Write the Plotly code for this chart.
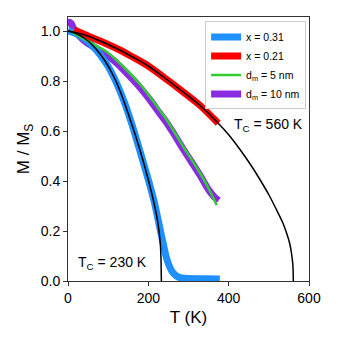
import plotly.graph_objects as go

# x = 0.31 (blue)
T_x031 = [0, 20, 40, 60, 80, 100, 120, 140, 160, 180, 200, 215, 225, 235, 246, 255, 262, 270, 280, 300, 340, 378]
M_x031 = [1.0, 0.99, 0.97, 0.942, 0.905, 0.858, 0.795, 0.717, 0.622, 0.515, 0.405, 0.315, 0.24, 0.165, 0.088, 0.05,
          0.032, 0.02, 0.013, 0.01, 0.009, 0.008]

# x = 0.21 (red)
T_x021 = [15, 40, 80, 129, 160, 200, 246, 286, 329, 374]
M_x021 = [1.005, 0.987, 0.96, 0.924, 0.897, 0.86, 0.806, 0.757, 0.702, 0.631]

# d_m = 5 nm (green)
T_d5 = [10, 38, 60, 96, 120, 146, 175, 204, 225, 246, 265, 287, 308, 329, 350, 370]
M_d5 = [0.995, 0.97, 0.95, 0.917, 0.885, 0.844, 0.795, 0.737, 0.69, 0.644, 0.595, 0.537, 0.485, 0.431, 0.37, 0.304]

# d_m = 10 nm (purple)
T_d10 = [0, 4, 8, 12, 18, 38, 60, 96, 120, 146, 175, 204, 225, 246, 265, 287, 308, 329, 350, 365, 375]
M_d10 = [1.02, 1.035, 1.03, 1.015, 1.0, 0.965, 0.94, 0.905, 0.873, 0.832, 0.782, 0.725, 0.678, 0.632, 0.585,
         0.527, 0.475, 0.422, 0.365, 0.335, 0.322]

# fits, Tc = 230 K and Tc = 560 K
T_fit230 = [0, 20, 40, 60, 80, 100, 110, 120, 134, 154, 179, 204, 215, 222, 227, 230, 231.5, 232.5]
M_fit230 = [1.0, 0.99, 0.972, 0.945, 0.908, 0.86, 0.83, 0.797, 0.742, 0.65, 0.525, 0.38, 0.305, 0.25, 0.195, 0.145,
            0.09, 0.0]
T_fit560 = [0, 40, 80, 129, 160, 200, 246, 286, 329, 374, 400, 430, 460, 480, 500, 520, 535, 545, 552, 557, 560, 561]
M_fit560 = [1.0, 0.985, 0.96, 0.924, 0.897, 0.86, 0.806, 0.757, 0.702, 0.631, 0.585, 0.522, 0.452, 0.400, 0.345,
            0.282, 0.232, 0.188, 0.150, 0.105, 0.06, 0.0]

FONT = "Liberation Sans, Arial, sans-serif"

fig = go.Figure()

fig.add_trace(go.Scatter(x=T_d10, y=M_d10, mode='lines', name='d<sub>m</sub> = 10 nm', legendrank=4,
                         line=dict(color='#8A2BE2', width=7, shape='spline', smoothing=0.8)))
fig.add_trace(go.Scatter(x=T_x031, y=M_x031, mode='lines', name='x = 0.31', legendrank=1,
                         line=dict(color='#1E90FF', width=7, shape='spline', smoothing=0.8)))
fig.add_trace(go.Scatter(x=T_x021, y=M_x021, mode='lines', name='x = 0.21', legendrank=2,
                         line=dict(color='#FF0000', width=7, shape='spline', smoothing=0.8)))
fig.add_trace(go.Scatter(x=T_d5, y=M_d5, mode='lines', name='d<sub>m</sub> = 5 nm', legendrank=3,
                         line=dict(color='#32CD32', width=2.5, shape='spline', smoothing=0.8)))
fig.add_trace(go.Scatter(x=T_fit230, y=M_fit230, mode='lines', showlegend=False,
                         line=dict(color='black', width=1.5, shape='spline', smoothing=0.6)))
fig.add_trace(go.Scatter(x=T_fit560, y=M_fit560, mode='lines', showlegend=False,
                         line=dict(color='black', width=1.5, shape='spline', smoothing=0.6)))

fig.add_annotation(x=111, y=0.073, text='T<sub>C</sub> = 230 K', showarrow=False,
                   font=dict(size=14, color='black', family=FONT))
fig.add_annotation(x=500, y=0.624, text='T<sub>C</sub> = 560 K', showarrow=False,
                   font=dict(size=14, color='black', family=FONT))

# page body adds 8px offset; figure sized to fit window
fig.update_layout(
    width=330, height=330,
    margin=dict(l=60, r=29, t=9, b=57),
    paper_bgcolor='white', plot_bgcolor='white',
    font=dict(family=FONT, size=14, color='black'),
    legend=dict(x=0.988, y=0.983, xanchor='right', yanchor='top',
                bgcolor='white', bordercolor='#cccccc', borderwidth=1,
                font=dict(size=10.5), tracegroupgap=0),
)
fig.update_xaxes(range=[0, 600], tickvals=[0, 200, 400, 600], showgrid=False, zeroline=False,
                 showline=True, linecolor='#333', linewidth=1, mirror=True,
                 ticks='outside', ticklen=4, tickcolor='#333', automargin=False,
                 title=dict(text='T (K)', standoff=6))
fig.update_yaxes(range=[0, 1.056], tickvals=[0, 0.2, 0.4, 0.6, 0.8, 1.0], tickformat='.1f',
                 showgrid=False, zeroline=False,
                 showline=True, linecolor='#333', linewidth=1, mirror=True,
                 ticks='outside', ticklen=4, tickcolor='#333', automargin=False,
                 title=dict(text='M / M<sub>S</sub>', standoff=6))

fig.write_html("out.html")
